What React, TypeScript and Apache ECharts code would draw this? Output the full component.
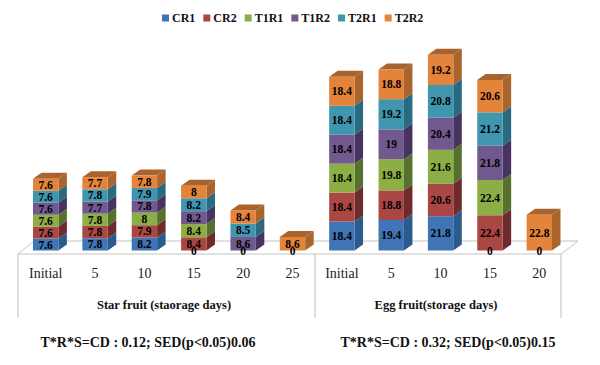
import React, { useEffect, useRef } from "react";
import * as echarts from "echarts";

const categories = ["Initial", "5", "10", "15", "20", "25", "Initial ", "5 ", "10 ", "15 ", "20 "];
const seriesNames = ["CR1", "CR2", "T1R1", "T1R2", "T2R1", "T2R2"];
const CR1 = [7.6, 7.8, 8.2, 0, 0, 0, 18.4, 19.4, 21.8, 0, 0];
const CR2 = [7.6, 7.8, 7.9, 8.4, null, null, 18.4, 18.8, 20.6, 22.4, null];
const T1R1 = [7.6, 7.8, 8, 8.4, null, null, 18.4, 19.8, 21.6, 22.4, null];
const T1R2 = [7.6, 7.7, 7.8, 8.2, 8.6, null, 18.4, 19, 20.4, 21.8, null];
const T2R1 = [7.6, 7.8, 7.9, 8.2, 8.5, null, 18.4, 19.2, 20.8, 21.2, null];
const T2R2 = [7.6, 7.7, 7.8, 8, 8.4, 8.6, 18.4, 18.8, 19.2, 20.6, 22.8];
const allValues = [CR1, CR2, T1R1, T1R2, T2R1, T2R2];
const frontColors = ["#3f74b5", "#aa4644", "#8cae44", "#71588f", "#3f96ae", "#e4833a"];
const sideColors = ["#2b5a8c", "#6e2b2b", "#56702e", "#46335f", "#2a6a80", "#a9652c"];
const topColor = "#a9632e";
const SERIF = "'Liberation Serif', serif";
const DX = 8.5;
const DY = 6;
const HALF = 12.7;

export default function App() {
  const ref = useRef<HTMLDivElement>(null);
  useEffect(() => {
    const chart = echarts.init(ref.current!, undefined, { renderer: "svg" });

    const depthData: number[][] = [];
    categories.forEach((_, c) => {
      let base = 0;
      let last = -1;
      allValues.forEach((vals, s) => {
        if (vals[c]) last = s;
      });
      allValues.forEach((vals, s) => {
        const v = vals[c];
        if (v) {
          depthData.push([c, base, base + v, s, s === last ? 1 : 0]);
          base += v;
        }
      });
    });

    const line = (x1: number, y1: number, x2: number, y2: number) => ({
      type: "line",
      z: 0,
      shape: { x1, y1, x2, y2 },
      style: { stroke: "#bdbdbd", lineWidth: 1 },
    });
    const text = (x: number, y: number, t: string, size: number) => ({
      type: "text",
      z: 5,
      x,
      y,
      style: {
        text: t,
        fill: "#111",
        font: `bold ${size}px ${SERIF}`,
        textAlign: "center",
        textVerticalAlign: "middle",
      },
    });

    chart.setOption({
      animation: false,
      backgroundColor: "#fff",
      grid: { left: 21, width: 543, top: 46, height: 204.5 },
      legend: {
        data: seriesNames,
        top: 7,
        left: 157,
        icon: "rect",
        itemWidth: 7,
        itemHeight: 7,
        itemGap: 8,
        selectedMode: false,
        textStyle: { fontFamily: SERIF, fontWeight: "bold", fontSize: 12, color: "#111", padding: [0, 0, 0, -2] },
      },
      xAxis: {
        type: "category",
        data: categories,
        axisLine: { show: false },
        axisTick: { show: false },
        axisLabel: {
          interval: 0,
          margin: 16,
          fontFamily: SERIF,
          fontSize: 14,
          color: "#222",
          formatter: (v: string) => v.trim(),
        },
      },
      yAxis: { type: "value", min: 0, max: 130, show: false },
      graphic: [
        {
          type: "polygon",
          z: 0,
          shape: { points: [[18, 254], [34, 241], [578, 241], [561, 254]] },
          style: { fill: "#fff", stroke: "#c4c4c4", lineWidth: 1 },
        },
        line(18, 254, 18, 318),
        line(315, 254, 315, 318),
        line(561, 254, 561, 318),
        text(164, 305, "Star fruit (staorage days)", 12.5),
        text(436, 305, "Egg fruit(storage days)", 12.5),
        text(148, 342, "T*R*S=CD : 0.12; SED(p<0.05)0.06", 14),
        text(448, 342, "T*R*S=CD : 0.32; SED(p<0.05)0.15", 14),
      ],
      series: [
        {
          type: "custom",
          name: "depth",
          z: 1,
          silent: true,
          data: depthData,
          encode: { x: 0, y: [1, 2] },
          renderItem: (_p: any, api: any) => {
            const lo = api.coord([api.value(0), api.value(1)]);
            const hi = api.coord([api.value(0), api.value(2)]);
            const s = api.value(3);
            const r = lo[0] + HALF;
            const children: any[] = [
              {
                type: "polygon",
                shape: { points: [[r, lo[1]], [r + DX, lo[1] - DY], [r + DX, hi[1] - DY], [r, hi[1]]] },
                style: { fill: sideColors[s] },
              },
            ];
            if (api.value(4)) {
              children.push({
                type: "polygon",
                shape: { points: [[r - 2 * HALF, hi[1]], [r - 2 * HALF + DX, hi[1] - DY], [r + DX, hi[1] - DY], [r, hi[1]]] },
                style: { fill: topColor },
              });
            }
            return { type: "group", children };
          },
        },
        ...seriesNames.map((name, i) => ({
          type: "bar",
          name,
          stack: "total",
          z: 3,
          barWidth: 25.4,
          data: allValues[i],
          itemStyle: { color: frontColors[i] },
          label: {
            show: true,
            position: "inside",
            fontFamily: SERIF,
            fontWeight: "bold",
            fontSize: 11.5,
            color: "#000",
          },
          labelLayout: { hideOverlap: false },
        })),
      ],
    });
    return () => chart.dispose();
  }, []);
  return <div ref={ref} style={{ position: "absolute", left: 0, top: 0, width: 600, height: 365 }} />;
}
